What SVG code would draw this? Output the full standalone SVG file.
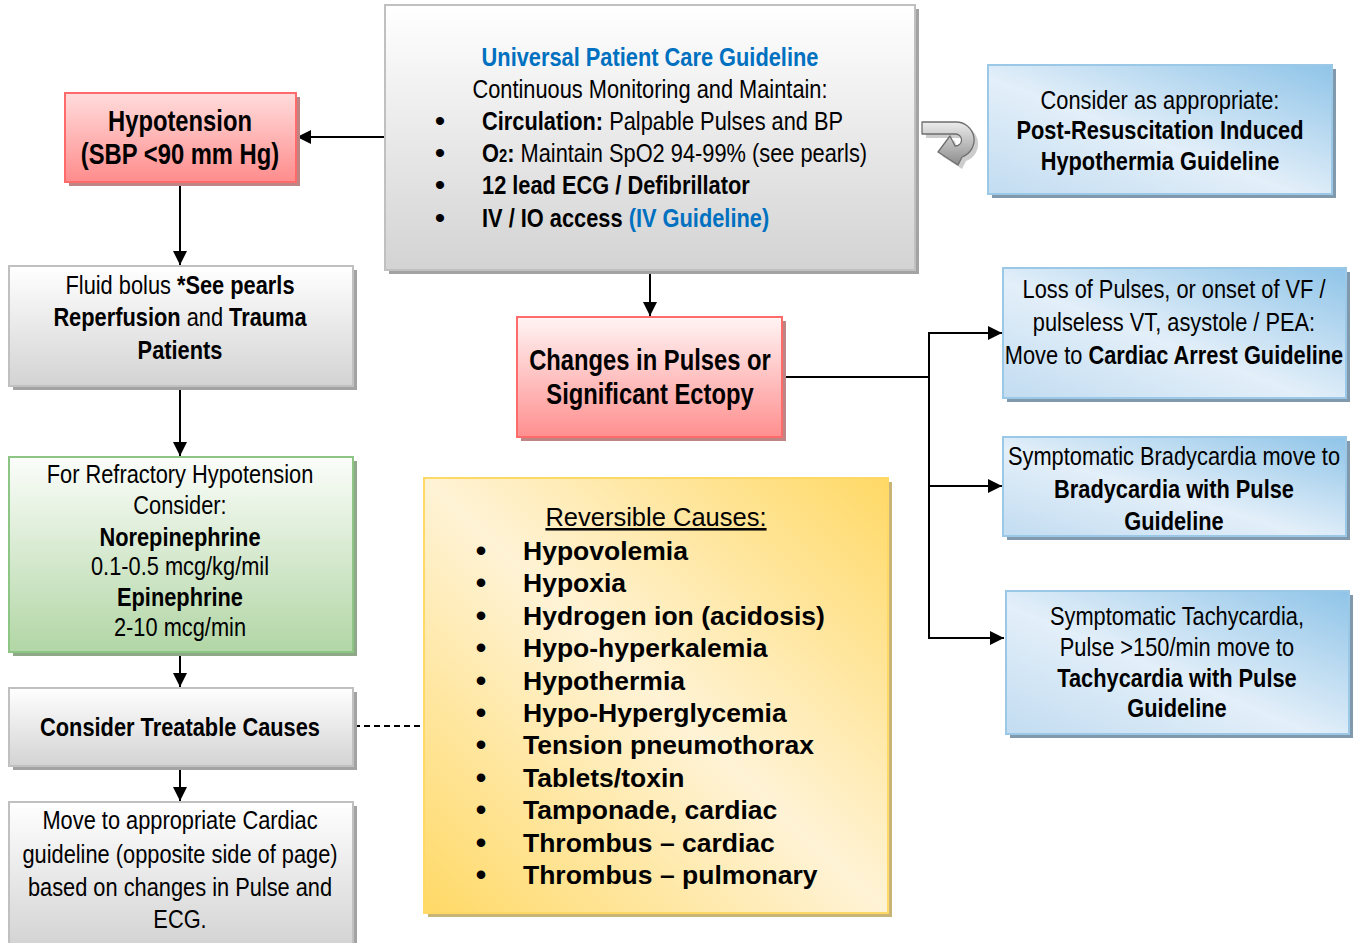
<svg xmlns="http://www.w3.org/2000/svg" width="1353" height="943" viewBox="0 0 1353 943">
  <defs>
    <linearGradient id="gGray" x1="0" y1="0" x2="0" y2="1">
      <stop offset="0" stop-color="#ffffff"/>
      <stop offset="1" stop-color="#d3d3d3"/>
    </linearGradient>
    <linearGradient id="gRed" x1="0" y1="0" x2="0" y2="1">
      <stop offset="0" stop-color="#fff4f4"/>
      <stop offset="1" stop-color="#ff8f8f"/>
    </linearGradient>
    <linearGradient id="gRedH" x1="0" y1="0" x2="0" y2="1">
      <stop offset="0" stop-color="#ffdcdc"/>
      <stop offset="1" stop-color="#ff8c8c"/>
    </linearGradient>
    <linearGradient id="gGreen" x1="0" y1="0" x2="0" y2="1">
      <stop offset="0" stop-color="#fbfdfa"/>
      <stop offset="1" stop-color="#b2d6a5"/>
    </linearGradient>
    <linearGradient id="gBlue" x1="1" y1="0" x2="0" y2="1">
      <stop offset="0" stop-color="#8fc4e8"/>
      <stop offset="0.55" stop-color="#e3eff9"/>
      <stop offset="1" stop-color="#c2dcf1"/>
    </linearGradient>
    <linearGradient id="gYellow" x1="1" y1="0" x2="0" y2="1">
      <stop offset="0" stop-color="#ffd966"/>
      <stop offset="0.5" stop-color="#fff3d6"/>
      <stop offset="1" stop-color="#ffd966"/>
    </linearGradient>
    <linearGradient id="gTurn" x1="0" y1="0" x2="0" y2="1">
      <stop offset="0" stop-color="#ececec"/>
      <stop offset="1" stop-color="#8c8c8c"/>
    </linearGradient>
    <marker id="arrow" viewBox="0 0 14 14" refX="14" refY="7" markerWidth="14" markerHeight="14" markerUnits="userSpaceOnUse" orient="auto">
      <path d="M0,0 L14,7 L0,14 z" fill="#000"/>
    </marker>
  </defs>
  <style>
    .txt { font-family: "Liberation Sans", Arial, sans-serif; fill: #000; }
    .n { font-size: 26.6px; text-anchor: middle; }
    .h { font-size: 29px; font-weight: bold; text-anchor: middle; }
    .l { font-size: 26.6px; text-anchor: start; }
    .b { font-weight: bold; }
    .blue { fill: #0070c0; }
    .rc { font-size: 26.5px; font-weight: bold; }
    .bul { text-anchor: middle; font-size: 30px; }
    .sh-gray { fill: #a3a3a3; }
    .sh-red { fill: #bf8585; }
    .sh-green { fill: #8fa988; }
    .sh-blue { fill: #8199ad; }
    .sh-yellow { fill: #c9b478; }
    .box-gray { fill: url(#gGray); stroke: #c0c0c0; stroke-width: 2; }
    .box-red { fill: url(#gRed); stroke: #ff6a6a; stroke-width: 2; }
    .box-redh { fill: url(#gRedH); stroke: #ff6a6a; stroke-width: 2; }
    .box-green { fill: url(#gGreen); stroke: #8cc584; stroke-width: 2; }
    .box-blue { fill: url(#gBlue); stroke: #9cc8e8; stroke-width: 2; }
    .box-yellow { fill: url(#gYellow); stroke: #ffd966; stroke-width: 2; }
    .link { stroke: #000; stroke-width: 2; fill: none; }
    .arr { marker-end: url(#arrow); }
  </style>

  <!-- connectors -->
  <g id="connectors">
    <line class="link arr" x1="385" y1="137" x2="297" y2="137"/>
    <line class="link arr" x1="180" y1="183" x2="180" y2="265"/>
    <line class="link arr" x1="180" y1="387" x2="180" y2="456"/>
    <line class="link arr" x1="180" y1="653" x2="180" y2="687"/>
    <line class="link arr" x1="180" y1="767" x2="180" y2="801"/>
    <line class="link" x1="354" y1="726" x2="424" y2="726" stroke-width="1.5" stroke-dasharray="6 4"/>
    <line class="link arr" x1="650" y1="271" x2="650" y2="316"/>
    <polyline class="link" points="783,377 929,377"/>
    <line class="link" x1="929" y1="332" x2="929" y2="639"/>
    <line class="link arr" x1="928" y1="333" x2="1002" y2="333"/>
    <line class="link arr" x1="928" y1="486" x2="1002" y2="486"/>
    <line class="link arr" x1="928" y1="638" x2="1004" y2="638"/>
  </g>

  <!-- Universal Patient Care -->
  <g id="universal">
    <rect class="sh-gray" x="389" y="9" width="530" height="265"/>
    <rect class="box-gray" x="385" y="5" width="530" height="265"/>
    <g class="txt" transform="translate(650 0) scale(0.82 1)">
      <text class="n b blue" x="0" y="66">Universal Patient Care Guideline</text>
      <text class="n" x="0" y="98">Continuous Monitoring and Maintain:</text>
    </g>
    <g class="txt">
      <text class="bul" x="440" y="131">•</text>
      <text class="bul" x="440" y="163">•</text>
      <text class="bul" x="440" y="195">•</text>
      <text class="bul" x="440" y="228">•</text>
    </g>
    <g class="txt" transform="translate(482 0) scale(0.82 1)">
      <text class="l" x="0" y="130"><tspan class="b">Circulation:</tspan> Palpable Pulses and BP</text>
      <text class="l" x="0" y="162"><tspan class="b">O<tspan font-size="18">2</tspan>:</tspan> Maintain SpO2 94-99% (see pearls)</text>
      <text class="l b" x="0" y="194">12 lead ECG / Defibrillator</text>
      <text class="l" x="0" y="227"><tspan class="b">IV / IO access </tspan><tspan class="b blue">(IV Guideline)</tspan></text>
    </g>
  </g>

  <!-- Hypotension -->
  <g id="hypotension">
    <rect class="sh-red" x="69" y="97" width="231" height="89"/>
    <rect class="box-redh" x="65" y="93" width="231" height="89"/>
    <g class="txt" transform="translate(180 0) scale(0.82 1)">
      <text class="h" x="0" y="131">Hypotension</text>
      <text class="h" x="0" y="164">(SBP &lt;90 mm Hg)</text>
    </g>
  </g>

  <!-- Fluid bolus -->
  <g id="fluid-bolus">
    <rect class="sh-gray" x="13" y="270" width="344" height="120"/>
    <rect class="box-gray" x="9" y="266" width="344" height="120"/>
    <g class="txt" transform="translate(180 0) scale(0.82 1)">
      <text class="n" x="0" y="294">Fluid bolus <tspan class="b">*See pearls</tspan></text>
      <text class="n" x="0" y="326"><tspan class="b">Reperfusion</tspan> and <tspan class="b">Trauma</tspan></text>
      <text class="n b" x="0" y="359">Patients</text>
    </g>
  </g>

  <!-- Refractory hypotension -->
  <g id="refractory">
    <rect class="sh-green" x="13" y="461" width="344" height="195"/>
    <rect class="box-green" x="9" y="457" width="344" height="195"/>
    <g class="txt" transform="translate(180 0) scale(0.82 1)">
      <text class="n" x="0" y="483">For Refractory Hypotension</text>
      <text class="n" x="0" y="514">Consider:</text>
      <text class="n b" x="0" y="546">Norepinephrine</text>
      <text class="n" x="0" y="575">0.1-0.5 mcg/kg/mil</text>
      <text class="n b" x="0" y="606">Epinephrine</text>
      <text class="n" x="0" y="636">2-10 mcg/min</text>
    </g>
  </g>

  <!-- Treatable causes -->
  <g id="treatable">
    <rect class="sh-gray" x="13" y="692" width="344" height="78"/>
    <rect class="box-gray" x="9" y="688" width="344" height="78"/>
    <g class="txt" transform="translate(180 0) scale(0.82 1)">
      <text class="n b" x="0" y="736">Consider Treatable Causes</text>
    </g>
  </g>

  <!-- Move to cardiac guideline -->
  <g id="move-cardiac">
    <rect class="sh-gray" x="13" y="806" width="344" height="145"/>
    <rect class="box-gray" x="9" y="802" width="344" height="145"/>
    <g class="txt" transform="translate(180 0) scale(0.82 1)">
      <text class="n" x="0" y="829">Move to appropriate Cardiac</text>
      <text class="n" x="0" y="863">guideline (opposite side of page)</text>
      <text class="n" x="0" y="896">based on changes in Pulse and</text>
      <text class="n" x="0" y="928">ECG.</text>
    </g>
  </g>

  <!-- Changes in pulses -->
  <g id="changes">
    <rect class="sh-red" x="521" y="321" width="265" height="120"/>
    <rect class="box-red" x="517" y="317" width="265" height="120"/>
    <g class="txt" transform="translate(650 0) scale(0.82 1)">
      <text class="h" x="0" y="370">Changes in Pulses or</text>
      <text class="h" x="0" y="404">Significant Ectopy</text>
    </g>
  </g>

  <!-- Reversible causes -->
  <g id="reversible">
    <rect class="sh-yellow" x="428" y="482" width="464" height="435"/>
    <rect class="box-yellow" x="424" y="478" width="464" height="435"/>
    <g class="txt">
      <text x="656" y="526" font-size="25.5" text-anchor="middle" text-decoration="underline">Reversible Causes:</text>
      <g class="rc">
        <text class="bul" x="481" y="561">•</text>
        <text class="bul" x="481" y="593">•</text>
        <text class="bul" x="481" y="626">•</text>
        <text class="bul" x="481" y="658">•</text>
        <text class="bul" x="481" y="691">•</text>
        <text class="bul" x="481" y="723">•</text>
        <text class="bul" x="481" y="755">•</text>
        <text class="bul" x="481" y="788">•</text>
        <text class="bul" x="481" y="820">•</text>
        <text class="bul" x="481" y="853">•</text>
        <text class="bul" x="481" y="885">•</text>
        <text x="523" y="560">Hypovolemia</text>
        <text x="523" y="592">Hypoxia</text>
        <text x="523" y="625">Hydrogen ion (acidosis)</text>
        <text x="523" y="657">Hypo-hyperkalemia</text>
        <text x="523" y="690">Hypothermia</text>
        <text x="523" y="722">Hypo-Hyperglycemia</text>
        <text x="523" y="754">Tension pneumothorax</text>
        <text x="523" y="787">Tablets/toxin</text>
        <text x="523" y="819">Tamponade, cardiac</text>
        <text x="523" y="852">Thrombus – cardiac</text>
        <text x="523" y="884">Thrombus – pulmonary</text>
      </g>
    </g>
  </g>

  <!-- U-turn pointer to hypothermia guideline -->
  <g id="u-turn">
    <path d="M924,124 L958,124 A18,18 0 0 1 964,159 L960,167 L940,154 L952,138 L957,148 A6,6 0 1 0 958,136 L924,136 Z" fill="#9a9a9a" opacity="0.5" transform="translate(2 2)"/>
    <path d="M922,122 L956,122 A18,18 0 0 1 962,157 L958,165 L938,152 L950,136 L955,146 A6,6 0 1 0 956,134 L922,134 Z" fill="url(#gTurn)" stroke="#6e6e6e" stroke-width="1.3" stroke-linejoin="round"/>
  </g>

  <!-- Post-resuscitation hypothermia -->
  <g id="hypothermia">
    <rect class="sh-blue" x="992" y="69" width="344" height="129"/>
    <rect class="box-blue" x="988" y="65" width="344" height="129"/>
    <g class="txt" transform="translate(1160 0) scale(0.82 1)">
      <text class="n" x="0" y="109">Consider as appropriate:</text>
      <text class="n b" x="0" y="139">Post-Resuscitation Induced</text>
      <text class="n b" x="0" y="170">Hypothermia Guideline</text>
    </g>
  </g>

  <!-- Cardiac arrest -->
  <g id="cardiac-arrest">
    <rect class="sh-blue" x="1007" y="272" width="343" height="130"/>
    <rect class="box-blue" x="1003" y="268" width="343" height="130"/>
    <g class="txt" transform="translate(1174 0) scale(0.82 1)">
      <text class="n" x="0" y="298">Loss of Pulses, or onset of VF /</text>
      <text class="n" x="0" y="331">pulseless VT, asystole / PEA:</text>
      <text class="n" x="0" y="364">Move to <tspan class="b">Cardiac Arrest Guideline</tspan></text>
    </g>
  </g>

  <!-- Bradycardia -->
  <g id="bradycardia">
    <rect class="sh-blue" x="1007" y="441" width="343" height="99"/>
    <rect class="box-blue" x="1003" y="437" width="343" height="99"/>
    <g class="txt" transform="translate(1174 0) scale(0.82 1)">
      <text class="n" x="0" y="465">Symptomatic Bradycardia move to</text>
      <text class="n b" x="0" y="498">Bradycardia with Pulse</text>
      <text class="n b" x="0" y="530">Guideline</text>
    </g>
  </g>

  <!-- Tachycardia -->
  <g id="tachycardia">
    <rect class="sh-blue" x="1010" y="595" width="343" height="143"/>
    <rect class="box-blue" x="1006" y="591" width="343" height="143"/>
    <g class="txt" transform="translate(1177 0) scale(0.82 1)">
      <text class="n" x="0" y="625">Symptomatic Tachycardia,</text>
      <text class="n" x="0" y="656">Pulse &gt;150/min move to</text>
      <text class="n b" x="0" y="687">Tachycardia with Pulse</text>
      <text class="n b" x="0" y="717">Guideline</text>
    </g>
  </g>
</svg>
